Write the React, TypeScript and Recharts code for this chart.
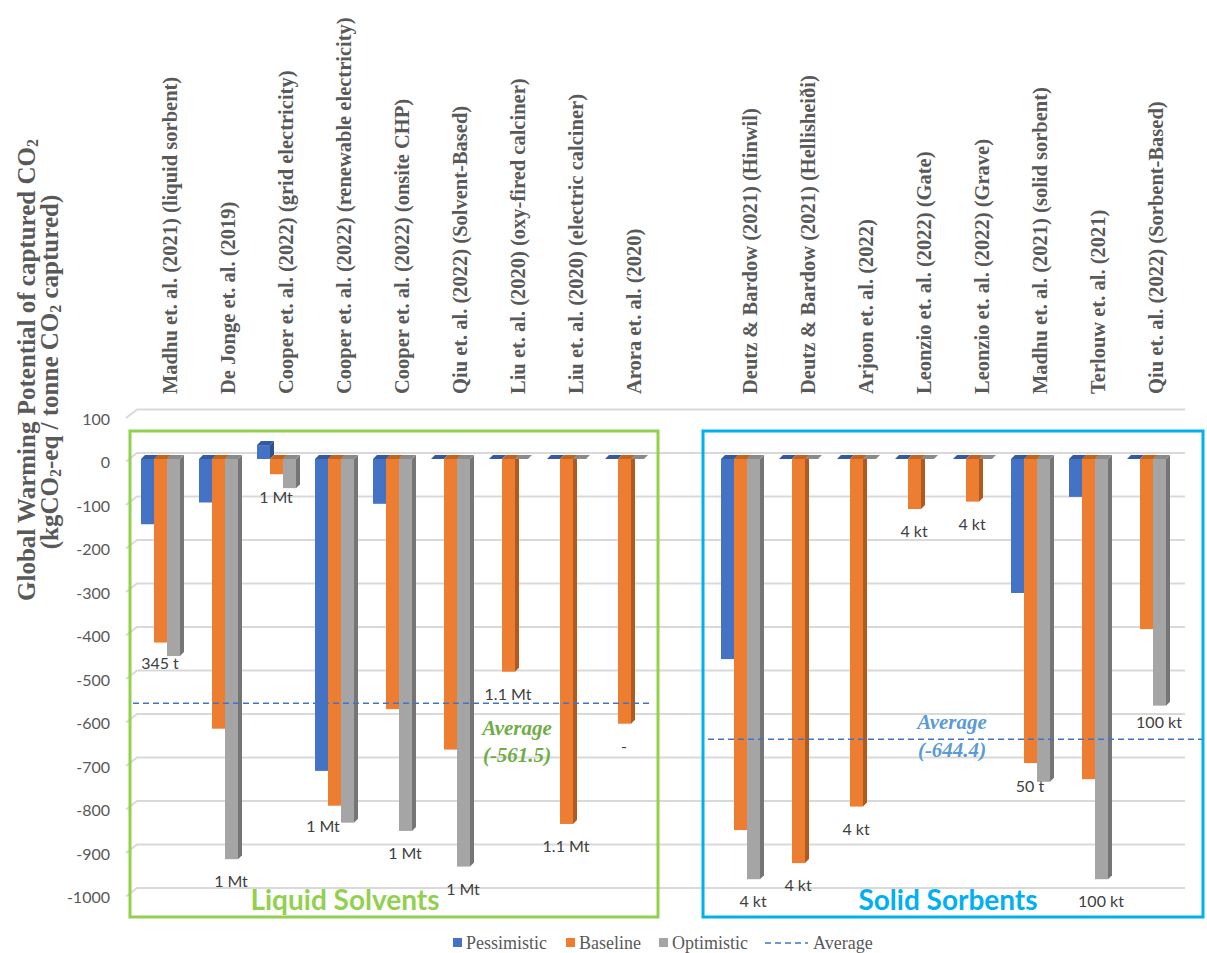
import React from "react";
import {
  ComposedChart,
  Bar,
  Line,
  XAxis,
  YAxis,
  CartesianGrid,
  ReferenceLine,
  LabelList,
} from "recharts";

// DAC life-cycle studies, liquid solvents first, then a spacer, then solid sorbents
const categories = [
  "Madhu et. al. (2021) (liquid sorbent)",
  "De Jonge et. al. (2019)",
  "Cooper et. al. (2022) (grid electricity)",
  "Cooper et. al. (2022) (renewable electricity)",
  "Cooper et. al. (2022) (onsite CHP)",
  "Qiu et. al. (2022) (Solvent-Based)",
  "Liu et. al. (2020) (oxy-fired calciner)",
  "Liu et. al. (2020) (electric calciner)",
  "Arora et. al. (2020)",
  "",
  "Deutz & Bardow (2021) (Hinwil)",
  "Deutz & Bardow (2021) (Hellisheiði)",
  "Arjoon et. al. (2022)",
  "Leonzio et. al. (2022) (Gate)",
  "Leonzio et. al. (2022) (Grave)",
  "Madhu et. al. (2021) (solid sorbent)",
  "Terlouw et. al. (2021)",
  "Qiu et. al. (2022) (Sorbent-Based)",
];

const pessimistic = [-150, -100, 32, -717, -103, 0, 0, 0, 0, null, -460, 0, 0, 0, 0, -308, -87, 0];
const baseline = [-422, -620, -35, -797, -575, -668, -489, -839, -608.5, null, -853, -929, -799, -115, -98, -699, -736, -391];
const optimistic = [-453, -920, -67, -836, -855, -937, 0, 0, 0, null, -966, 0, 0, 0, 0, -742, -966, -567];

// plant scale quoted under each study
const scaleTags = ["345 t", "1 Mt", "1 Mt", "1 Mt", "1 Mt", "1 Mt", "1.1 Mt", "1.1 Mt", "-", null, "4 kt", "4 kt", "4 kt", "4 kt", "4 kt", "50 t", "100 kt", "100 kt"];

const yTicks = [100, 0, -100, -200, -300, -400, -500, -600, -700, -800, -900, -1000];

const liquidAverage = -561.5;
const solidAverage = -644.4;

const BAR_SIZE = 13;
const DEPTH = 4;
const SERIF = '"Liberation Serif", "Times New Roman", serif';
const SANS = 'Lato, "Noto Sans", sans-serif';

const series = [
  { key: "pessimistic", name: "Pessimistic", front: "#4472C4", side: "#2F528F", top: "#34599F" },
  { key: "baseline", name: "Baseline", front: "#ED7D31", side: "#AE5A21", top: "#C4651F" },
  { key: "optimistic", name: "Optimistic", front: "#A5A5A5", side: "#757575", top: "#8A8A8A" },
];

const data = categories.map((name, i) => {
  const vals = [pessimistic[i], baseline[i], optimistic[i]];
  const present = vals.filter((v): v is number => v != null);
  const lowest = present.length ? Math.min(...present) : null;
  // which bar of the cluster reaches lowest: -1, 0 or +1 bar widths from centre
  const slot = lowest == null ? 0 : vals.lastIndexOf(lowest) - 1;
  return {
    name,
    pessimistic: pessimistic[i],
    baseline: baseline[i],
    optimistic: optimistic[i],
    labelAt: lowest,
    slot,
    tag: scaleTags[i],
  };
});

// a few tags sit tucked beside their bars instead of below them
const tagNudge: Record<number, [number, number]> = {
  0: [-13, -15],
  2: [-13, -13],
  3: [-24, -19],
  15: [-13, -18],
  17: [0, -6],
};

const makeBlock = (front: string, side: string, top: string) => (props: any) => {
  const { x, y, width, height } = props;
  if (x == null || y == null || !width) return <g />;
  const y0 = Math.min(y, y + (height || 0));
  const h = Math.abs(height || 0);
  const r = x + width;
  return (
    <g>
      <rect x={x} y={y0} width={width} height={h} fill={front} />
      <polygon
        points={`${r},${y0} ${r + DEPTH},${y0 - DEPTH} ${r + DEPTH},${y0 + h - DEPTH} ${r},${y0 + h}`}
        fill={side}
      />
      <polygon
        points={`${x},${y0} ${x + DEPTH},${y0 - DEPTH} ${r + DEPTH},${y0 - DEPTH} ${r},${y0}`}
        fill={top}
      />
    </g>
  );
};

const renderGridLine = (props: any) => {
  const { x1, x2, y1, index } = props;
  return (
    <path
      key={`grid-${index}`}
      d={`M${x1 - 5},${y1 + 2.5} L${x1 + 6},${y1 - 6} L${x2 + 10},${y1 - 6}`}
      fill="none"
      stroke="#D9D9D9"
      strokeWidth={2}
    />
  );
};

const renderYTick = (props: any) => {
  const { y, payload } = props;
  return (
    <text x={110} y={y + 9} textAnchor="end" fontFamily={SANS} fontSize={16} fill="#595959">
      {payload.value}
    </text>
  );
};

const renderCategory = (props: any) => {
  const { x, payload } = props;
  if (!payload.value) return <g />;
  const cx = x + 10;
  const by = 394;
  return (
    <text
      x={cx}
      y={by}
      transform={`rotate(-90 ${cx} ${by})`}
      textAnchor="start"
      dominantBaseline="central"
      fontFamily={SERIF}
      fontWeight="bold"
      fontSize={20.5}
      fill="#595959"
    >
      {payload.value}
    </text>
  );
};

const renderTag = (props: any) => {
  const { value, index } = props;
  const x = props.x ?? props.viewBox?.x;
  const y = props.y ?? props.viewBox?.y;
  if (value == null || x == null || y == null) return null;
  const [dx, dy] = tagNudge[index] ?? [0, 0];
  const shift = data[index].slot * BAR_SIZE;
  return (
    <text x={x + shift + dx} y={y + 28 + dy} textAnchor="middle" fontFamily={SANS} fontSize={16} fill="#404040">
      {value}
    </text>
  );
};

const averageLine = (before: number, after: number) => (props: any) => {
  const { x1, x2, y1 } = props;
  return (
    <line
      x1={x1 - before}
      x2={x2 + after}
      y1={y1}
      y2={y1}
      stroke="#4472C4"
      strokeWidth={1.5}
      strokeDasharray="6 4"
    />
  );
};

const averageLabel = (value: number, color: string, dx: number, dy1: number, dy2: number) => (props: any) => {
  const vb = props.viewBox || {};
  const x = vb.x + dx;
  const y = vb.y;
  return (
    <g fontFamily={SERIF} fontWeight="bold" fontStyle="italic" fontSize={21} fill={color} textAnchor="middle">
      <text x={x} y={y + dy1}>Average</text>
      <text x={x} y={y + dy2}>({value})</text>
    </g>
  );
};

const legendItems = [
  { name: "Pessimistic", color: "#4472C4", x: 453 },
  { name: "Baseline", color: "#ED7D31", x: 566 },
  { name: "Optimistic", color: "#A5A5A5", x: 659 },
];

export default function App() {
  return (
    <div style={{ position: "absolute", left: 0, top: 0, width: 1207, height: 953, background: "#fff" }}>
      <ComposedChart
        width={1207}
        height={953}
        data={data}
        barGap={0}
        margin={{ top: 395.5, right: 32, bottom: 59, left: 0 }}
      >
        <CartesianGrid vertical={false} horizontal={renderGridLine} />
        <XAxis
          dataKey="name"
          orientation="top"
          height={20}
          interval={0}
          axisLine={false}
          tickLine={false}
          tick={renderCategory}
        />
        <YAxis
          type="number"
          domain={[-1000, 100]}
          ticks={yTicks}
          interval={0}
          width={131}
          axisLine={false}
          tickLine={false}
          allowDataOverflow
          tick={renderYTick}
        />
        {series.map((s) => (
          <Bar
            key={s.key}
            dataKey={s.key}
            name={s.name}
            fill={s.front}
            barSize={BAR_SIZE}
            shape={makeBlock(s.front, s.side, s.top)}
            isAnimationActive={false}
          />
        ))}
        <Line
          dataKey="labelAt"
          stroke="none"
          dot={false}
          activeDot={false}
          legendType="none"
          isAnimationActive={false}
        >
          <LabelList dataKey="tag" content={renderTag} />
        </Line>
        <ReferenceLine
          segment={[
            { x: categories[0], y: liquidAverage },
            { x: categories[8], y: liquidAverage },
          ]}
          ifOverflow="visible"
          shape={averageLine(27, 29)}
          label={averageLabel(liquidAverage, "#70AD47", 357, 32, 59)}
        />
        <ReferenceLine
          segment={[
            { x: categories[10], y: solidAverage },
            { x: categories[17], y: solidAverage },
          ]}
          ifOverflow="visible"
          shape={averageLine(32, 59)}
          label={averageLabel(solidAverage, "#5B9BD5", 212, -10, 18)}
        />
      </ComposedChart>

      <svg
        width={1207}
        height={953}
        style={{ position: "absolute", left: 0, top: 0, pointerEvents: "none" }}
      >
        {/* axis title */}
        <g fontFamily={SERIF} fontWeight="bold" fontSize={25} fill="#595959" textAnchor="middle">
          <text x={26} y={370} transform="rotate(-90 26 370)" dominantBaseline="central">
            Global Warming Potential of captured CO
            <tspan fontSize={16} dy={6}>2</tspan>
          </text>
          <text x={49} y={372} transform="rotate(-90 49 372)" dominantBaseline="central">
            (kgCO
            <tspan fontSize={16} dy={6}>2</tspan>
            <tspan dy={-6}>-eq / tonne CO</tspan>
            <tspan fontSize={16} dy={6}>2</tspan>
            <tspan dy={-6}> captured)</tspan>
          </text>
        </g>

        {/* technology groups */}
        <rect x={130} y={431} width={528} height={486} fill="none" stroke="#92D050" strokeWidth={3} />
        <rect x={703} y={431} width={500} height={486} fill="none" stroke="#00B0F0" strokeWidth={3} />
        <text x={345} y={910} textAnchor="middle" fontFamily={SANS} fontWeight="bold" fontSize={28} fill="#92D050">
          Liquid Solvents
        </text>
        <text x={948} y={910} textAnchor="middle" fontFamily={SANS} fontWeight="bold" fontSize={28} fill="#00B0F0">
          Solid Sorbents
        </text>

        {/* legend */}
        <g fontFamily={SERIF} fontSize={18} fill="#595959">
          {legendItems.map((item) => (
            <g key={item.name}>
              <rect x={item.x} y={938} width={9} height={9} fill={item.color} />
              <text x={item.x + 13} y={949}>{item.name}</text>
            </g>
          ))}
          <line x1={765} x2={808} y1={943} y2={943} stroke="#4472C4" strokeWidth={1.5} strokeDasharray="6 4" />
          <text x={813} y={949}>Average</text>
        </g>
      </svg>
    </div>
  );
}
